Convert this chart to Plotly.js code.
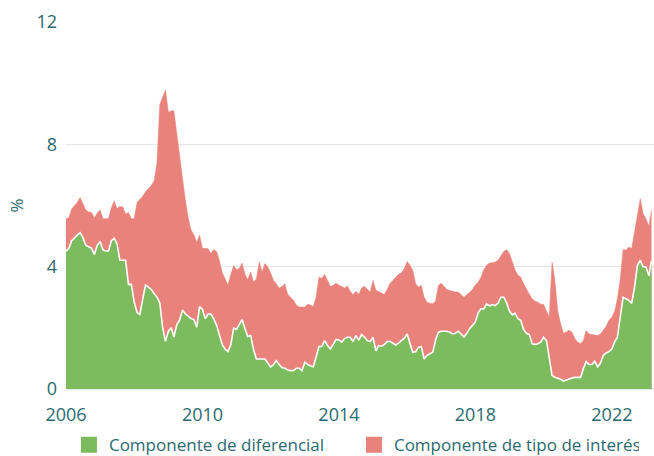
<!DOCTYPE html>
<html>
<head>
<meta charset="utf-8">
<script src="https://cdn.plot.ly/plotly-3.0.1.min.js"></script>
<style>
  html, body { margin: 0; padding: 0; background: #ffffff; }
  #chart { width: 654px; height: 456px; }
</style>
</head>
<body>
<div id="chart"></div>
<script>
// Monthly series starting January 2006 (percent)
const startYear = 2006;
const startMonth = 1;

// Componente de diferencial (lower, green area)
const diferencial = [
  4.51, 4.60, 4.84, 4.95, 5.03, 5.11, 4.95, 4.70, 4.64, 4.60, 4.40, 4.70,
  4.82, 4.55, 4.51, 4.51, 4.84, 4.93, 4.75, 4.21, 4.21, 4.21, 3.42, 3.42,
  2.85, 2.50, 2.44, 2.95, 3.40, 3.33, 3.26, 3.12, 3.00, 2.82, 2.00, 1.56,
  1.89, 2.00, 1.70, 2.10, 2.25, 2.58, 2.46, 2.38, 2.30, 2.27, 2.02, 2.70,
  2.60, 2.30, 2.45, 2.45, 2.30, 2.08, 1.75, 1.45, 1.30, 1.22, 1.45, 1.99,
  1.95, 2.10, 2.27, 1.97, 1.72, 1.75, 1.30, 0.98, 0.98, 0.98, 0.98, 0.85,
  0.72, 0.80, 0.93, 0.80, 0.70, 0.68, 0.62, 0.60, 0.60, 0.68, 0.68, 0.60,
  0.88, 0.80, 0.76, 0.72, 1.04, 1.39, 1.39, 1.58, 1.42, 1.31, 1.46, 1.62,
  1.60, 1.53, 1.65, 1.69, 1.69, 1.55, 1.75, 1.60, 1.78, 1.70, 1.58, 1.55,
  1.69, 1.25, 1.42, 1.40, 1.45, 1.55, 1.56, 1.50, 1.44, 1.50, 1.58, 1.66,
  1.80, 1.50, 1.20, 1.22, 1.36, 1.39, 0.98, 1.10, 1.15, 1.20, 1.60, 1.86,
  1.89, 1.89, 1.89, 1.86, 1.80, 1.82, 1.89, 1.80, 1.70, 1.82, 1.98, 2.08,
  2.20, 2.50, 2.62, 2.62, 2.78, 2.72, 2.76, 2.73, 2.81, 3.00, 3.00, 2.82,
  2.55, 2.42, 2.48, 2.30, 2.25, 1.95, 1.82, 1.78, 1.48, 1.46, 1.48, 1.53,
  1.69, 1.58, 1.04, 0.44, 0.38, 0.36, 0.32, 0.26, 0.30, 0.32, 0.36, 0.38,
  0.38, 0.38, 0.66, 0.90, 0.80, 0.80, 0.91, 0.72, 0.85, 1.10, 1.18, 1.22,
  1.31, 1.55, 1.69, 2.35, 3.00, 2.95, 2.90, 2.80, 3.33, 4.04, 4.21, 4.00,
  3.99, 3.70, 4.19
];

// Upper edge of the stack: diferencial + componente de tipo de interés
const totalTop = [
  5.57, 5.60, 5.88, 6.00, 6.10, 6.26, 6.05, 5.85, 5.79, 5.77, 5.60, 5.75,
  5.85, 5.57, 5.57, 5.57, 5.93, 6.15, 5.90, 5.97, 5.95, 5.72, 5.77, 5.57,
  5.57, 6.10, 6.20, 6.30, 6.45, 6.55, 6.65, 6.80, 7.40, 9.30, 9.55, 9.78,
  9.05, 9.10, 9.10, 8.30, 7.60, 6.90, 6.20, 5.60, 5.20, 5.05, 4.80, 5.03,
  4.60, 4.59, 4.59, 4.43, 4.56, 4.50, 4.20, 3.80, 3.60, 3.40, 3.75, 4.04,
  3.90, 3.95, 4.12, 3.75, 3.57, 3.83, 3.50, 3.60, 4.15, 3.83, 4.10, 4.00,
  3.79, 3.55, 3.44, 3.30, 3.35, 3.44, 3.10, 3.00, 2.90, 2.75, 2.68, 2.68,
  2.68, 2.77, 2.75, 2.70, 3.00, 3.66, 3.61, 3.75, 3.55, 3.35, 3.39, 3.46,
  3.40, 3.36, 3.30, 3.37, 3.20, 3.08, 3.20, 3.10, 3.30, 3.36, 3.25, 3.17,
  3.55, 3.22, 3.19, 3.15, 3.09, 3.25, 3.45, 3.55, 3.66, 3.75, 3.80, 3.93,
  4.17, 4.05, 3.88, 3.45, 3.33, 3.39, 3.00, 2.84, 2.80, 2.79, 2.88, 3.39,
  3.46, 3.33, 3.25, 3.22, 3.19, 3.17, 3.17, 3.09, 3.00, 3.08, 3.18, 3.25,
  3.40, 3.50, 3.65, 3.90, 4.05, 4.12, 4.13, 4.15, 4.21, 4.37, 4.50, 4.56,
  4.43, 4.15, 3.90, 3.72, 3.66, 3.44, 3.25, 3.10, 2.95, 2.87, 2.84, 2.77,
  2.77, 2.55, 2.35, 4.15, 3.55, 2.55, 2.13, 1.82, 1.86, 1.93, 1.85, 1.65,
  1.53, 1.48, 1.58, 1.91, 1.80, 1.78, 1.77, 1.75, 1.80, 1.91, 2.05, 2.25,
  2.35, 2.55, 2.95, 3.60, 4.56, 4.54, 4.64, 4.59, 5.19, 5.63, 6.23, 5.74,
  5.57, 5.32, 5.85
];

const seriesNames = ["Componente de diferencial", "Componente de tipo de interés"];
const yTicks = [0, 4, 8, 12];

// month dates for the x axis
const dates = diferencial.map((_, i) => {
  const total = (startMonth - 1) + i;
  const y = startYear + Math.floor(total / 12);
  const m = (total % 12) + 1;
  return y + "-" + String(m).padStart(2, "0") + "-01";
});

const GREEN = "#7dbb5f";
const RED = "#e8827a";
const TEXT = "#2b6a72";
const FONT = "Open Sans, sans-serif";

const traces = [
  {
    type: "scatter", mode: "lines", x: dates, y: totalTop,
    fill: "tozeroy", fillcolor: RED,
    line: { color: RED, width: 0.5 },
    showlegend: false, hoverinfo: "skip"
  },
  {
    type: "scatter", mode: "lines", x: dates, y: diferencial,
    fill: "tozeroy", fillcolor: GREEN,
    line: { color: "#ffffff", width: 1.6 },
    showlegend: false, hoverinfo: "skip"
  },
  {
    type: "bar", x: [null], y: [null], name: seriesNames[0],
    marker: { color: GREEN, line: { color: GREEN, width: 4 } }, showlegend: true
  },
  {
    type: "bar", x: [null], y: [null], name: seriesNames[1],
    marker: { color: RED, line: { color: RED, width: 4 } }, showlegend: true
  }
];

const layout = {
  width: 654, height: 456,
  margin: { l: 66, r: 0, t: 22, b: 67, autoexpand: false },
  paper_bgcolor: "#ffffff", plot_bgcolor: "#ffffff",
  font: { family: FONT, color: TEXT, size: 16 },
  xaxis: {
    type: "date",
    range: ["2006-01-01", "2023-03-28"],
    tick0: "2006-01-01", dtick: "M48", tickformat: "%Y",
    showgrid: false, zeroline: false, showline: false,
    ticks: "outside", ticklen: 9, tickcolor: "rgba(0,0,0,0)",
    tickfont: { family: FONT, size: 18, color: TEXT }
  },
  yaxis: {
    range: [0, 12], tickvals: yTicks, ticktext: yTicks.map(String),
    showgrid: true, gridcolor: "#e6e6e6", gridwidth: 1.5,
    zeroline: true, zerolinecolor: "#e6e6e6", zerolinewidth: 1.5,
    showline: false, ticks: "", ticklabelstandoff: 8,
    tickfont: { family: FONT, size: 18, color: TEXT },
    title: { text: "%", font: { family: FONT, size: 17, color: TEXT }, standoff: 8 }
  },
  legend: {
    orientation: "h", x: 0.005, xanchor: "left", y: -0.104, yanchor: "top",
    font: { family: FONT, size: 17, color: TEXT },
    traceorder: "normal", entrywidth: 240, entrywidthmode: "pixels",
    bgcolor: "rgba(0,0,0,0)"
  },
  showlegend: true,
  barmode: "overlay"
};

Plotly.newPlot("chart", traces, layout, { displayModeBar: false, staticPlot: true });
</script>
</body>
</html>
